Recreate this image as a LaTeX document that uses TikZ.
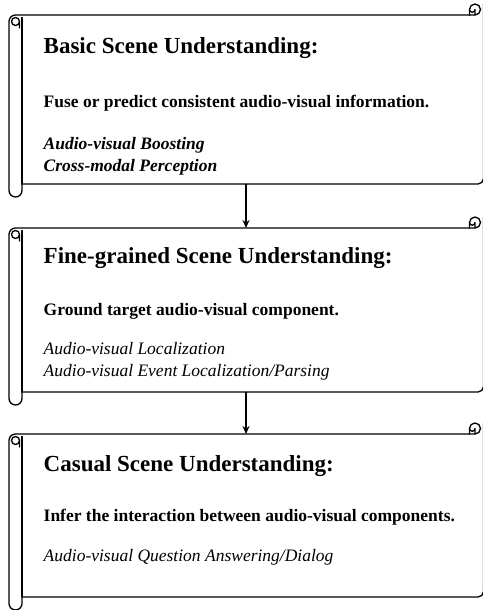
\documentclass[tikz,border=0pt]{standalone}
\usepackage{fontspec}
\setmainfont{Liberation Serif}
\usetikzlibrary{arrows.meta}

% scroll geometry (pt): left roll and right curl
\def\xa{9}      % outer edge of the left roll
\def\ch{13}     % roll width
\def\hh{6.5}    % half roll width
\def\xb{22}     % inner edge of the left roll
\def\xl{15.5}   % centre of the small top loop
\def\xs{19.5}   % stem of the small top loop
\def\lr{4}      % radius of the small top loop
\def\xc{469.5}  % start of the right curl
\def\xd{475}    % middle of the right curl
\def\dd{5.5}    % curl radius
\def\ddq{2.75}  % inner curl radius
\def\xr{483.5}  % right edge
\def\rc{5.5}    % bottom right corner radius

% #1 = y of the top edge, #2 = y of the bottom edge
\newcommand\scrollframe[2]{%
  % outline: top edge, left roll, bottom edge
  \draw[frame] (\xc,#1) -- ({\xa+\hh},#1) arc[start angle=90,end angle=180,radius=\hh pt]
    -- (\xa,{#2-\hh}) arc[start angle=180,end angle=360,radius=\hh pt]
    -- (\xb,#2) -- ({\xr-\rc},#2) arc[start angle=-90,end angle=0,radius=\rc pt]
    -- (\xr,{#1+2*\dd});
  % right curl
  \draw[frame] (\xc,#1) -- (\xc,{#1+\dd}) arc[start angle=180,end angle=0,radius=\dd pt];
  \draw[frame] (\xc,#1) -- (\xd,#1) arc[start angle=-90,end angle=0,radius=\dd pt];
  \draw[frame] (\xd,#1) -- (\xd,{#1+\dd}) arc[start angle=0,end angle=-180,radius=\ddq pt];
  % small loop at the top of the roll
  \draw[frame] (\xs,{#1-\ch}) -- (\xs,{#1-\hh})
    arc[start angle=0,end angle=360,radius=\lr pt];
  % inner edge of the roll
  \draw[frame] (\xb,{#1-2.5}) -- (\xb,#2);
}

\tikzset{
  frame/.style={line width=1.3pt, line join=round, line cap=round},
  body/.style={draw=none, inner sep=0pt, outer sep=0pt, minimum width=476pt},
  head/.style={anchor=base west, inner sep=0pt, font=\fontsize{23}{27}\selectfont\bfseries},
  lead/.style={anchor=base west, inner sep=0pt, font=\fontsize{17.5}{21}\selectfont\bfseries},
  item/.style={anchor=base west, inner sep=0pt, font=\fontsize{17.5}{21}\selectfont\itshape},
  bitem/.style={item, font=\fontsize{17.5}{21}\selectfont\bfseries\itshape},
  flow/.style={line width=1.2pt, -{Stealth[length=8pt,width=7pt]}}
}

\begin{document}
\begin{tikzpicture}[x=1pt,y=1pt]
  \fill[white] (0,0) rectangle (482,-610);
  \useasboundingbox (0,0) rectangle (482,-610);

  % three scroll panels
  \scrollframe{-15}{-184}
  \scrollframe{-228}{-392}
  \scrollframe{-434}{-597}

  \node[body, minimum height=169pt] (box1) at (246,-99.5) {};
  \node[body, minimum height=164pt] (box2) at (246,-310) {};
  \node[body, minimum height=163pt] (box3) at (246,-515.5) {};

  % panel 1
  \node[head]  (h1)  at (43.5,-53)  {Basic Scene Understanding:};
  \node[lead]  (l1)  at (43.5,-107) {Fuse or predict consistent audio-visual information.};
  \node[bitem] (i1a) at (43.5,-149) {Audio-visual Boosting};
  \node[bitem] (i1b) at (43.5,-171) {Cross-modal Perception};

  % panel 2
  \node[head] (h2)  at (43.5,-263) {Fine-grained Scene Understanding:};
  \node[lead] (l2)  at (43.5,-315) {Ground target audio-visual component.};
  \node[item] (i2a) at (43.5,-354) {Audio-visual Localization};
  \node[item] (i2b) at (43.5,-376) {Audio-visual Event Localization/Parsing};

  % panel 3
  \node[head] (h3)  at (43.5,-471) {Casual Scene Understanding:};
  \node[lead] (l3)  at (43.5,-521) {Infer the interaction between audio-visual components.};
  \node[item] (i3a) at (43.5,-561) {Audio-visual Question Answering/Dialog};

  % connectors
  \draw[flow] (box1.south) -- (box2.north);
  \draw[flow] (box2.south) -- (box3.north);
\end{tikzpicture}
\end{document}
